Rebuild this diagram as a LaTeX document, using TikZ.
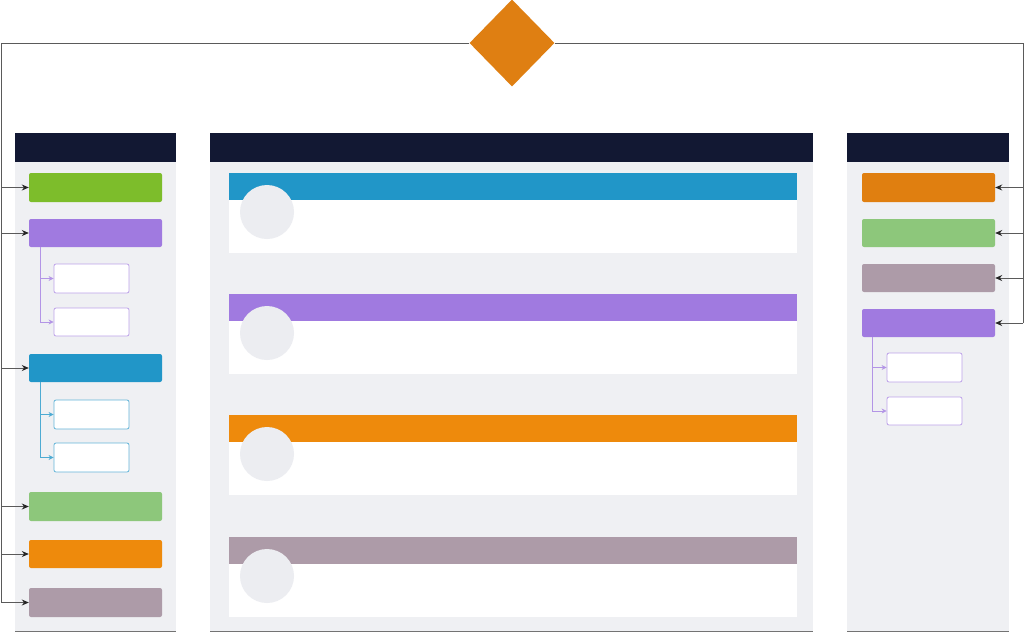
\documentclass[tikz,border=0pt]{standalone}
\usetikzlibrary{arrows.meta,shapes.geometric}
\definecolor{navy}{HTML}{121833}
\definecolor{panelbg}{HTML}{EFF0F3}
\definecolor{cgreen}{HTML}{7DBD2B}
\definecolor{cgreenb}{HTML}{8DC77B}
\definecolor{cpurple}{HTML}{A07AE0}
\definecolor{cblue}{HTML}{2196C8}
\definecolor{corange}{HTML}{EE8A0C}
\definecolor{corangeb}{HTML}{E07F10}
\definecolor{cmauve}{HTML}{AD9BA8}
\definecolor{cdia}{HTML}{DF7F12}
\definecolor{circ}{HTML}{ECEDF1}
\definecolor{wire}{HTML}{5A5A5A}
\tikzset{
  hdr/.style={fill=navy,draw=none},
  panel/.style={fill=panelbg,draw=none},
  bar/.style={fill=#1,draw=none,rounded corners=2pt},
  child/.style={fill=white,draw=#1!70,line width=0.8pt,rounded corners=2pt},
  wirel/.style={draw=wire,line width=0.9pt},
  arr/.style={draw=wire,line width=0.9pt,-{Stealth[length=7pt,width=6pt,color=black!85]}},
  carr/.style={draw=#1,line width=0.8pt,-{Stealth[length=5pt,width=5pt]}},
  card/.style={fill=white,draw=none},
  cbar/.style={fill=#1,draw=none},
  disc/.style={circle,fill=circ,draw=none,minimum size=54pt,inner sep=0pt},
}
\begin{document}
\begin{tikzpicture}[x=1pt,y=-1pt]
\useasboundingbox (0,0) rectangle (1024,632);
\fill[white] (0,0) rectangle (1024,632);
% panels
\foreach \a/\b in {15/176,210/813,847/1009}{
  \fill[panel] (\a,162) rectangle (\b,631);
  \fill[hdr] (\a,133) rectangle (\b,162);
  \draw[black!55,line width=1pt] (\a,631) -- (\b,631);
}
% diamond
\node[diamond,fill=cdia,minimum width=85pt,minimum height=87pt,inner sep=0pt] (dia) at (512,43) {};
% left column boxes
\path[bar=cgreen]  (29,173) rectangle (162,202) node[pos=0.5,inner sep=0pt,minimum width=133pt,minimum height=29pt] (l1) {};
\path[bar=cpurple] (29,219) rectangle (162,247) node[pos=0.5,inner sep=0pt,minimum width=133pt,minimum height=28pt] (l2) {};
\path[child=cpurple] (54,264) rectangle (129,293) node[pos=0.5,inner sep=0pt,minimum width=75pt,minimum height=29pt] (l2a) {};
\path[child=cpurple] (54,308) rectangle (129,336) node[pos=0.5,inner sep=0pt,minimum width=75pt,minimum height=28pt] (l2b) {};
\path[bar=cblue]   (29,354) rectangle (162,382) node[pos=0.5,inner sep=0pt,minimum width=133pt,minimum height=28pt] (l3) {};
\path[child=cblue] (54,400) rectangle (129,429) node[pos=0.5,inner sep=0pt,minimum width=75pt,minimum height=29pt] (l3a) {};
\path[child=cblue] (54,443) rectangle (129,472) node[pos=0.5,inner sep=0pt,minimum width=75pt,minimum height=29pt] (l3b) {};
\path[bar=cgreenb] (29,492) rectangle (162,521) node[pos=0.5,inner sep=0pt,minimum width=133pt,minimum height=29pt] (l4) {};
\path[bar=corange] (29,540) rectangle (162,568) node[pos=0.5,inner sep=0pt,minimum width=133pt,minimum height=28pt] (l5) {};
\path[bar=cmauve]  (29,588) rectangle (162,617) node[pos=0.5,inner sep=0pt,minimum width=133pt,minimum height=29pt] (l6) {};
% right column boxes
\path[bar=corangeb] (862,173) rectangle (995,202) node[pos=0.5,inner sep=0pt,minimum width=133pt,minimum height=29pt] (r1) {};
\path[bar=cgreenb]  (862,219) rectangle (995,247) node[pos=0.5,inner sep=0pt,minimum width=133pt,minimum height=28pt] (r2) {};
\path[bar=cmauve]   (862,264) rectangle (995,292) node[pos=0.5,inner sep=0pt,minimum width=133pt,minimum height=28pt] (r3) {};
\path[bar=cpurple]  (862,309) rectangle (995,337) node[pos=0.5,inner sep=0pt,minimum width=133pt,minimum height=28pt] (r4) {};
\path[child=cpurple] (887,353) rectangle (962,382) node[pos=0.5,inner sep=0pt,minimum width=75pt,minimum height=29pt] (r4a) {};
\path[child=cpurple] (887,397) rectangle (962,425) node[pos=0.5,inner sep=0pt,minimum width=75pt,minimum height=28pt] (r4b) {};
% middle cards
\foreach \t/\c/\n in {173/cblue/m1,294/cpurple/m2,415/corange/m3,537/cmauve/m4}{
  \fill[card] (229,\t) rectangle (797,\t+80);
  \fill[cbar=\c] (229,\t) rectangle (797,\t+27);
  \node[disc] (\n) at (267,\t+39) {};
}
% main wires
\coordinate (L) at (1,43);
\coordinate (R) at (1023,43);
\draw[wirel] (dia.west) -- (L) -- (L|-l6.west);
\draw[wirel] (dia.east) -- (R) -- (R|-r4.east);
\foreach \n in {l1,l2,l3,l4,l5,l6}{\draw[arr] (L|-\n.west) -- (\n.west);}
\foreach \n in {r1,r2,r3,r4}{\draw[arr] (R|-\n.east) -- (\n.east);}
% child wires
\coordinate (lp) at (40,247);
\draw[cpurple!80,line width=0.8pt] (lp) -- (lp|-l2b.west);
\foreach \n in {l2a,l2b}{\draw[carr=cpurple!80] (lp|-\n.west) -- (\n.west);}
\coordinate (lb) at (40,382);
\draw[cblue!80,line width=0.8pt] (lb) -- (lb|-l3b.west);
\foreach \n in {l3a,l3b}{\draw[carr=cblue!80] (lb|-\n.west) -- (\n.west);}
\coordinate (rp) at (872,337);
\draw[cpurple!80,line width=0.8pt] (rp) -- (rp|-r4b.west);
\foreach \n in {r4a,r4b}{\draw[carr=cpurple!80] (rp|-\n.west) -- (\n.west);}
\end{tikzpicture}
\end{document}
